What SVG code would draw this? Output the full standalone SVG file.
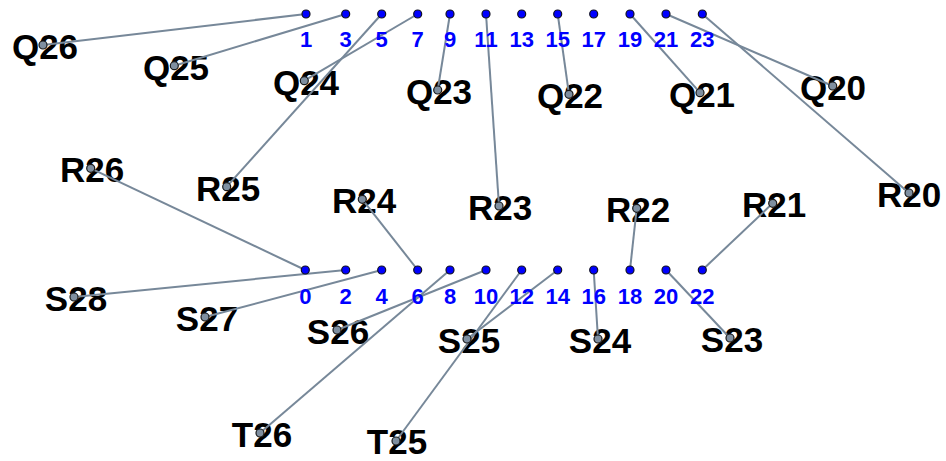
<svg xmlns="http://www.w3.org/2000/svg" width="946" height="461" viewBox="0 0 946 461">
<style>
.bg{fill:#ffffff}
.pin{fill:#0000ff;stroke:#111122;stroke-width:1.2}
.num{font-family:"Liberation Sans",Arial,sans-serif;font-weight:bold;font-size:22px;fill:#0000ff;text-anchor:middle}
.lbl{font-family:"Liberation Sans",Arial,sans-serif;font-weight:bold;font-size:35px;fill:#000000;text-anchor:middle}
.ldot{fill:#7f8fa0;stroke:#1a1a1a;stroke-width:1.2}
.wire{stroke:#778899;stroke-width:2;fill:none}
</style>
<rect class="bg" x="0" y="0" width="946" height="461"/>
<g id="labels">
<g id="Q26"><text class="lbl" x="45" y="59">Q26</text></g>
<g id="Q25"><text class="lbl" x="176" y="80">Q25</text></g>
<g id="Q24"><text class="lbl" x="306" y="95">Q24</text></g>
<g id="Q23"><text class="lbl" x="439" y="104">Q23</text></g>
<g id="Q22"><text class="lbl" x="570" y="108">Q22</text></g>
<g id="Q21"><text class="lbl" x="702" y="107">Q21</text></g>
<g id="Q20"><text class="lbl" x="833" y="100">Q20</text></g>
<g id="R26"><text class="lbl" x="92" y="182">R26</text></g>
<g id="R25"><text class="lbl" x="228" y="201">R25</text></g>
<g id="R24"><text class="lbl" x="364" y="213">R24</text></g>
<g id="R23"><text class="lbl" x="500" y="220">R23</text></g>
<g id="R22"><text class="lbl" x="638" y="222">R22</text></g>
<g id="R21"><text class="lbl" x="774" y="217">R21</text></g>
<g id="R20"><text class="lbl" x="909" y="207">R20</text></g>
<g id="S28"><text class="lbl" x="76" y="311">S28</text></g>
<g id="S27"><text class="lbl" x="207" y="331">S27</text></g>
<g id="S26"><text class="lbl" x="338" y="344">S26</text></g>
<g id="S25"><text class="lbl" x="469" y="353">S25</text></g>
<g id="S24"><text class="lbl" x="600" y="353">S24</text></g>
<g id="S23"><text class="lbl" x="732" y="352">S23</text></g>
<g id="T26"><text class="lbl" x="262" y="447">T26</text></g>
<g id="T25"><text class="lbl" x="397" y="454">T25</text></g>
</g>
<g id="connectors">
<line class="wire" x1="43" y1="45" x2="306" y2="14"/>
<line class="wire" x1="174.3" y1="65.7" x2="345.7" y2="14"/>
<line class="wire" x1="304.3" y1="80.7" x2="417.7" y2="14"/>
<line class="wire" x1="226.7" y1="186.7" x2="381.7" y2="14"/>
<line class="wire" x1="437.7" y1="90" x2="450" y2="14"/>
<line class="wire" x1="499" y1="206" x2="486" y2="14"/>
<line class="wire" x1="569" y1="94.3" x2="557.7" y2="14"/>
<line class="wire" x1="700" y1="92.7" x2="630" y2="14"/>
<line class="wire" x1="832.7" y1="86" x2="666" y2="14"/>
<line class="wire" x1="909" y1="193" x2="702.3" y2="14"/>
<line class="wire" x1="90.7" y1="168.3" x2="305.3" y2="270"/>
<line class="wire" x1="74" y1="297" x2="345.7" y2="270"/>
<line class="wire" x1="205" y1="317" x2="381.7" y2="270"/>
<line class="wire" x1="362.3" y1="199.3" x2="417.7" y2="270"/>
<line class="wire" x1="260" y1="433" x2="450" y2="270"/>
<line class="wire" x1="337" y1="330" x2="486" y2="270"/>
<line class="wire" x1="396" y1="441" x2="521.7" y2="270"/>
<line class="wire" x1="467" y1="339" x2="557.7" y2="270"/>
<line class="wire" x1="598" y1="339" x2="593.7" y2="270"/>
<line class="wire" x1="636.7" y1="208.3" x2="630" y2="270"/>
<line class="wire" x1="730" y1="338" x2="666" y2="270"/>
<line class="wire" x1="772.7" y1="203.3" x2="702.3" y2="270"/>
</g>
<g id="label-dots">
<circle class="ldot" cx="43" cy="45" r="4"/>
<circle class="ldot" cx="174.3" cy="65.7" r="4"/>
<circle class="ldot" cx="304.3" cy="80.7" r="4"/>
<circle class="ldot" cx="437.7" cy="90" r="4"/>
<circle class="ldot" cx="569" cy="94.3" r="4"/>
<circle class="ldot" cx="700" cy="92.7" r="4"/>
<circle class="ldot" cx="832.7" cy="86" r="4"/>
<circle class="ldot" cx="90.7" cy="168.3" r="4"/>
<circle class="ldot" cx="226.7" cy="186.7" r="4"/>
<circle class="ldot" cx="362.3" cy="199.3" r="4"/>
<circle class="ldot" cx="499" cy="206" r="4"/>
<circle class="ldot" cx="636.7" cy="208.3" r="4"/>
<circle class="ldot" cx="772.7" cy="203.3" r="4"/>
<circle class="ldot" cx="909" cy="193" r="4"/>
<circle class="ldot" cx="74" cy="297" r="4"/>
<circle class="ldot" cx="205" cy="317" r="4"/>
<circle class="ldot" cx="337" cy="330" r="4"/>
<circle class="ldot" cx="467" cy="339" r="4"/>
<circle class="ldot" cx="598" cy="339" r="4"/>
<circle class="ldot" cx="730" cy="338" r="4"/>
<circle class="ldot" cx="260" cy="433" r="4"/>
<circle class="ldot" cx="396" cy="441" r="4"/>
</g>
<g id="top-pins">
<circle class="pin" cx="306" cy="14" r="4"/>
<circle class="pin" cx="345.7" cy="14" r="4"/>
<circle class="pin" cx="381.7" cy="14" r="4"/>
<circle class="pin" cx="417.7" cy="14" r="4"/>
<circle class="pin" cx="450" cy="14" r="4"/>
<circle class="pin" cx="486" cy="14" r="4"/>
<circle class="pin" cx="521.7" cy="14" r="4"/>
<circle class="pin" cx="557.7" cy="14" r="4"/>
<circle class="pin" cx="593.7" cy="14" r="4"/>
<circle class="pin" cx="630" cy="14" r="4"/>
<circle class="pin" cx="666" cy="14" r="4"/>
<circle class="pin" cx="702.3" cy="14" r="4"/>
<text class="num" x="306" y="47">1</text>
<text class="num" x="345.7" y="47">3</text>
<text class="num" x="381.7" y="47">5</text>
<text class="num" x="417.7" y="47">7</text>
<text class="num" x="450" y="47">9</text>
<text class="num" x="486" y="47">11</text>
<text class="num" x="521.7" y="47">13</text>
<text class="num" x="557.7" y="47">15</text>
<text class="num" x="593.7" y="47">17</text>
<text class="num" x="630" y="47">19</text>
<text class="num" x="666" y="47">21</text>
<text class="num" x="702.3" y="47">23</text>
</g>
<g id="bottom-pins">
<circle class="pin" cx="305.3" cy="270" r="4"/>
<circle class="pin" cx="345.7" cy="270" r="4"/>
<circle class="pin" cx="381.7" cy="270" r="4"/>
<circle class="pin" cx="417.7" cy="270" r="4"/>
<circle class="pin" cx="450" cy="270" r="4"/>
<circle class="pin" cx="486" cy="270" r="4"/>
<circle class="pin" cx="521.7" cy="270" r="4"/>
<circle class="pin" cx="557.7" cy="270" r="4"/>
<circle class="pin" cx="593.7" cy="270" r="4"/>
<circle class="pin" cx="630" cy="270" r="4"/>
<circle class="pin" cx="666" cy="270" r="4"/>
<circle class="pin" cx="702.3" cy="270" r="4"/>
<text class="num" x="305.3" y="304">0</text>
<text class="num" x="345.7" y="304">2</text>
<text class="num" x="381.7" y="304">4</text>
<text class="num" x="417.7" y="304">6</text>
<text class="num" x="450" y="304">8</text>
<text class="num" x="486" y="304">10</text>
<text class="num" x="521.7" y="304">12</text>
<text class="num" x="557.7" y="304">14</text>
<text class="num" x="593.7" y="304">16</text>
<text class="num" x="630" y="304">18</text>
<text class="num" x="666" y="304">20</text>
<text class="num" x="702.3" y="304">22</text>
</g>
</svg>
